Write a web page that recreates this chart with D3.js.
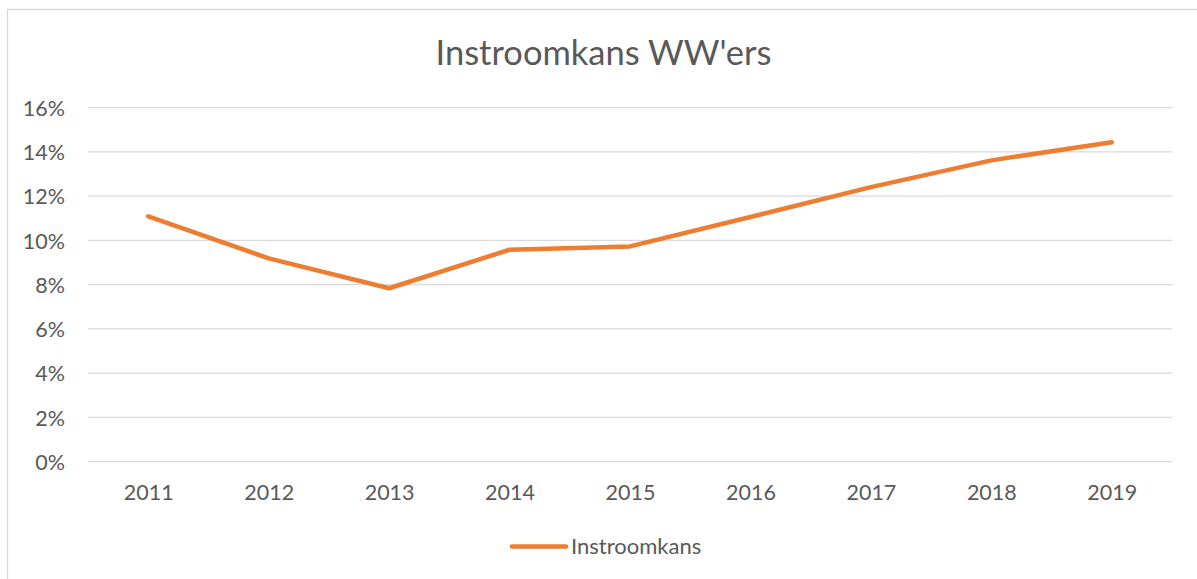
<!DOCTYPE html>
<html>
<head>
<meta charset="utf-8">
<script src="https://cdn.jsdelivr.net/npm/d3@7"></script>
<style>
    body { margin: 0; background: #fff; }
    svg text { font-family: Lato, "Open Sans", sans-serif; fill: #595959; }
</style>
</head>
<body>
<div id="chart"></div>
<script>
// Data
const years = ['2011', '2012', '2013', '2014', '2015', '2016', '2017', '2018', '2019'];
const instroomkans = [0.1109, 0.0919, 0.0784, 0.0958, 0.0973, 0.1106, 0.1241, 0.1362, 0.1444];
const yTicks = [0, 0.02, 0.04, 0.06, 0.08, 0.10, 0.12, 0.14, 0.16];
const chartTitle = "Instroomkans WW'ers";
const seriesName = 'Instroomkans';

const W = 1197, H = 579;
const plot = { left: 88, right: 1172, top: 107.7, bottom: 461.7 };
const ORANGE = '#ED7D31';
const GRID = '#d9d9d9';
const LABEL_SIZE = '21.5px';

const svg = d3.select('#chart')
    .append('svg')
    .attr('width', W)
    .attr('height', H);

// Outer chart border (only left and top are visible in the crop)
svg.append('path')
    .attr('d', `M7.5,${H} L7.5,9.5 L${W},9.5`)
    .attr('fill', 'none')
    .attr('stroke', GRID)
    .attr('stroke-width', 1.3);

const x = d3.scalePoint()
    .domain(years)
    .range([plot.left, plot.right])
    .padding(0.5);

const y = d3.scaleLinear()
    .domain([0, 0.16])
    .range([plot.bottom, plot.top]);

// Gridlines
svg.append('g')
    .selectAll('line')
    .data(yTicks)
    .enter()
    .append('line')
    .attr('x1', plot.left)
    .attr('x2', plot.right)
    .attr('y1', d => y(d))
    .attr('y2', d => y(d))
    .attr('stroke', GRID)
    .attr('stroke-width', 1.3);

// Y axis labels
const yAxis = svg.append('g')
    .attr('transform', `translate(${plot.left},0)`)
    .call(d3.axisLeft(y).tickValues(yTicks).tickFormat(d3.format('.0%')).tickSize(0).tickPadding(23));
yAxis.select('.domain').remove();
yAxis.selectAll('text')
    .attr('fill', '#595959')
    .style('font-size', LABEL_SIZE)
    .attr('dy', '0.36em');

// X axis labels
const xAxis = svg.append('g')
    .attr('transform', `translate(0,${plot.bottom})`)
    .call(d3.axisBottom(x).tickSize(0).tickPadding(22));
xAxis.select('.domain').remove();
xAxis.selectAll('text')
    .attr('fill', '#595959')
    .style('font-size', LABEL_SIZE)
    .attr('dy', '0.75em');

// Series line
const line = d3.line()
    .x((d, i) => x(years[i]))
    .y(d => y(d));

svg.append('path')
    .datum(instroomkans)
    .attr('d', line)
    .attr('fill', 'none')
    .attr('stroke', ORANGE)
    .attr('stroke-width', 4.5)
    .attr('stroke-linecap', 'round')
    .attr('stroke-linejoin', 'round');

// Title
svg.append('text')
    .attr('x', 603.5)
    .attr('y', 65)
    .attr('text-anchor', 'middle')
    .style('font-size', '34.5px')
    .text(chartTitle);

// Legend
const legend = svg.append('g');
legend.append('line')
    .attr('x1', 512).attr('x2', 566)
    .attr('y1', 546.5).attr('y2', 546.5)
    .attr('stroke', ORANGE)
    .attr('stroke-width', 4.5)
    .attr('stroke-linecap', 'round');
legend.append('text')
    .attr('x', 571)
    .attr('y', 553.5)
    .style('font-size', '22px')
    .text(seriesName);
</script>
</body>
</html>
